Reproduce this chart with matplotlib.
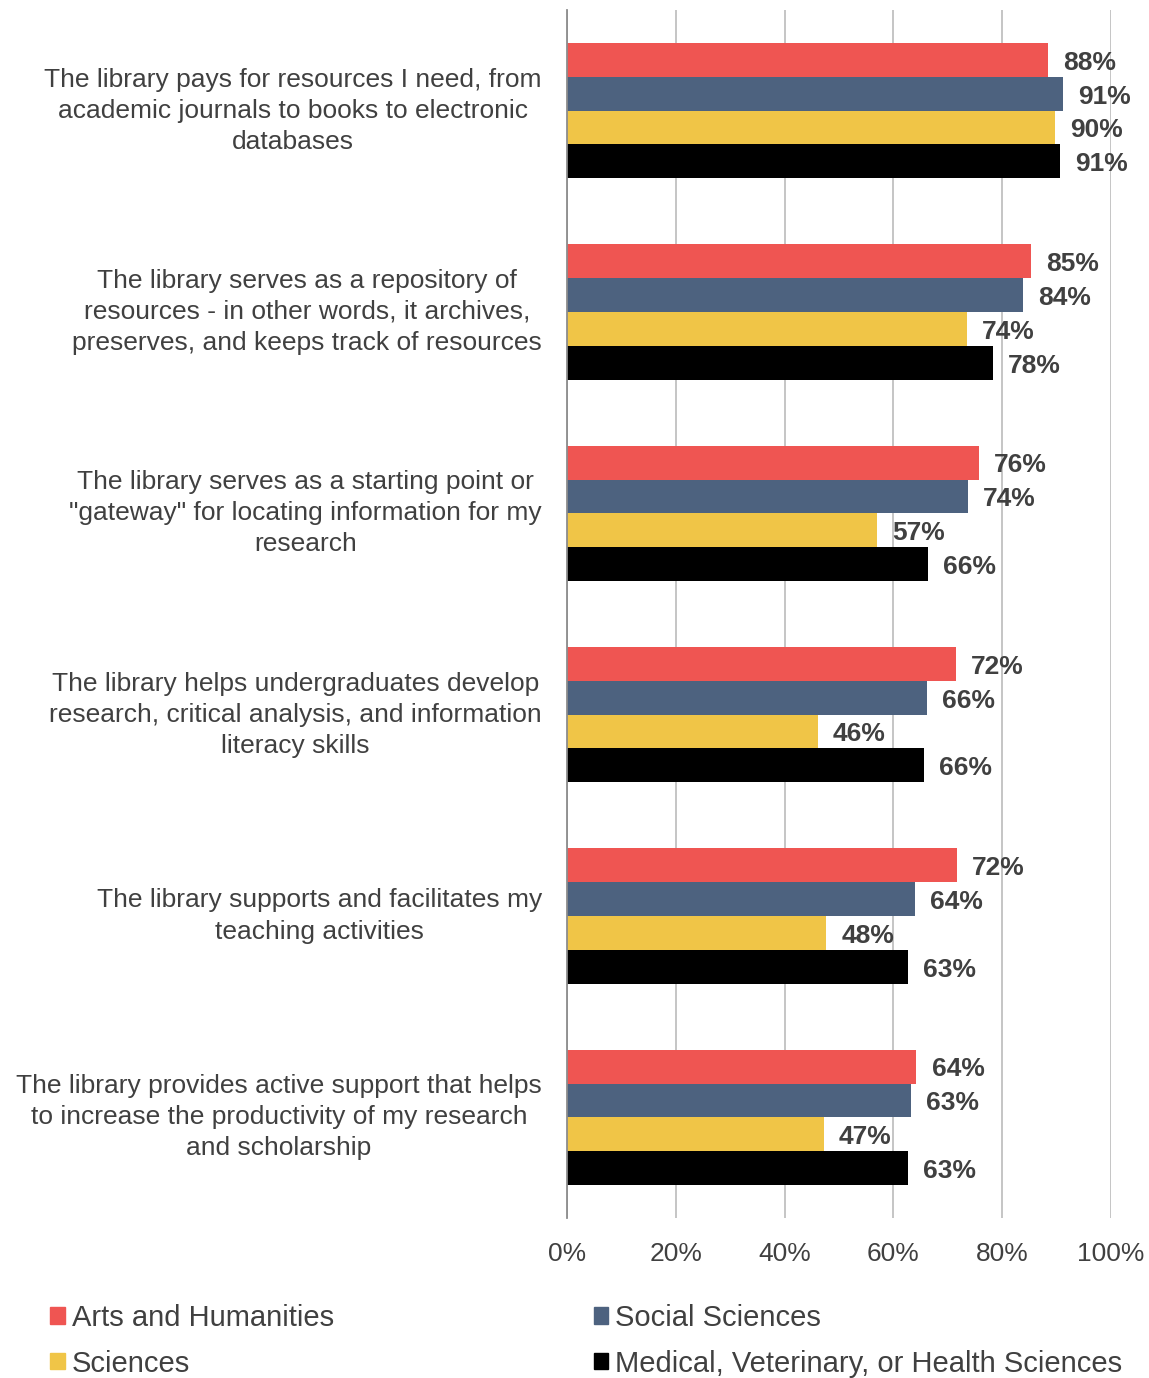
"""
Horizontal grouped bar chart: how faculty see the library's roles, by discipline.
"""

import matplotlib
matplotlib.use("Agg")
import matplotlib.pyplot as plt
import numpy as np
from matplotlib.patches import Patch

plt.rcParams['font.family'] = ['Liberation Sans', 'DejaVu Sans']

# categories, top to bottom
categories = [
    "The library pays for resources I need, from\nacademic journals to books to electronic\ndatabases",
    "The library serves as a repository of\nresources - in other words, it archives,\npreserves, and keeps track of resources",
    "The library serves as a starting point or\n\"gateway\" for locating information for my\nresearch",
    "The library helps undergraduates develop\nresearch, critical analysis, and information\nliteracy skills",
    "The library supports and facilitates my\nteaching activities",
    "The library provides active support that helps\nto increase the productivity of my research\nand scholarship",
]

series_names = ["Arts and Humanities", "Social Sciences", "Sciences",
                "Medical, Veterinary, or Health Sciences"]

# shares in percent
arts = [88.4, 85.3, 75.7, 71.5, 71.7, 64.2]
social = [91.2, 83.8, 73.7, 66.2, 64.0, 63.2]
sciences = [89.7, 73.5, 57.0, 46.1, 47.6, 47.2]
medical = [90.6, 78.3, 66.4, 65.6, 62.6, 62.7]

colors = ["#EF5552", "#4D627F", "#F0C547", "#000000"]
text_col = "#404040"

fig = plt.figure(figsize=(11.49, 13.78), dpi=100)
ax = fig.add_axes([567 / 1149, 1 - 1218 / 1378, 544 / 1149, 1208 / 1378])

y = np.arange(len(categories))
h = 0.168
all_series = [arts, social, sciences, medical]
for i, (vals, col) in enumerate(zip(all_series, colors)):
    pos = y + (i - 1.5) * h
    ax.barh(pos, np.array(vals) / 100, height=h, color=col, zorder=3)
    for p, v in zip(pos, vals):
        ax.annotate(f"{round(v):.0f}%", (v / 100, p), xytext=(11, -2),
                    textcoords="offset points", ha="left", va="center",
                    fontsize=19, fontweight="bold", color=text_col, zorder=4)

ax.set_xlim(0, 1.0)
ax.set_ylim(len(categories) - 0.5, -0.5)
ax.set_xticks(np.arange(0, 1.01, 0.2))
ax.set_xticklabels([f"{t}%" for t in range(0, 101, 20)])
ax.tick_params(axis="x", length=0, pad=17, labelsize=19, labelcolor=text_col)
ax.set_yticks([])
ax.grid(axis="x", color="#C0C0C0", linewidth=1.3, zorder=0)
for s in ["top", "right", "bottom"]:
    ax.spines[s].set_visible(False)
ax.spines["left"].set_color("#8C8C8C")
ax.spines["left"].set_linewidth(1.3)
ax.spines["left"].set_zorder(5)

for yi, label in zip(y, categories):
    ax.annotate(label, (0, yi), xytext=(-18, 0), textcoords="offset points",
                ha="right", va="center", multialignment="center",
                fontsize=19, color=text_col, linespacing=1.37)

handles = [Patch(color=c) for c in colors]
order = [0, 2, 1, 3]
fig.legend([handles[i] for i in order], [series_names[i] for i in order],
           ncol=2, loc="upper left", bbox_to_anchor=(50 / 1149, 1 - 1304 / 1378),
           frameon=False, fontsize=21, handlelength=0.5, handleheight=0.5,
           handletextpad=0.25, columnspacing=8.9, labelspacing=0.6,
           borderpad=0, borderaxespad=0, labelcolor=text_col)

fig.savefig("out.png", dpi=100)
